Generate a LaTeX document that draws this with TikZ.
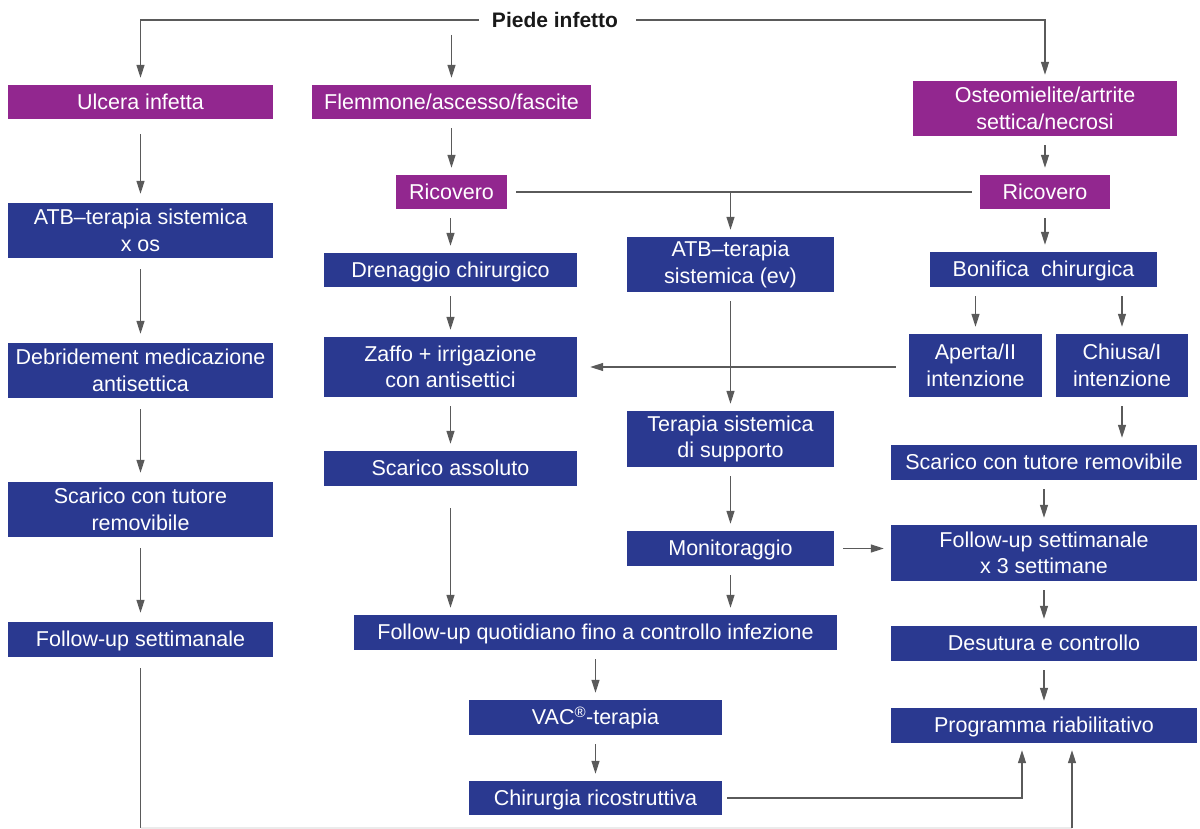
\documentclass[tikz,border=0pt]{standalone}
\usepackage{fontspec}
\setmainfont{Liberation Sans}
\usetikzlibrary{arrows.meta,calc}
\definecolor{vio}{HTML}{92278F}
\definecolor{blu}{HTML}{2A3990}
\definecolor{lin}{HTML}{5A5A5A}
\definecolor{fnt}{HTML}{EBEBEB}
\tikzset{
  box/.style={rectangle, inner sep=0pt, text=white, align=center,
    font=\fontsize{21.5}{26.5}\selectfont},
  sl/.style={text height=15.5pt, text depth=1pt},
  pbox/.style={box, fill=vio},
  bbox/.style={box, fill=blu},
  ln/.style={draw=lin, line width=1.3pt},
  arr/.style={ln, -{Triangle[length=13pt,width=8pt]}, shorten >=7pt, shorten <=9pt},
}
\begin{document}
\begin{tikzpicture}[x=1pt,y=-1pt]
\useasboundingbox (0,0) rectangle (1200,829);
% top
\node[font=\fontsize{21}{25}\selectfont\bfseries, text=black!90, inner sep=0pt] (pie) at (555,20) {Piede infetto};
% column 1
\node[pbox, sl, minimum width=265, minimum height=34] (ulc) at (140.5,102) {Ulcera infetta};
\node[bbox, minimum width=265, minimum height=55] (atb1) at (140.5,230.5) {ATB–terapia sistemica\\x os};
\node[bbox, minimum width=265, minimum height=55] (deb) at (140.5,370.5) {Debridement medicazione\\antisettica};
\node[bbox, minimum width=265, minimum height=55] (sca1) at (140.5,509.5) {Scarico con tutore\\removibile};
\node[bbox, sl, minimum width=265, minimum height=35] (fu1) at (140.5,639.5) {Follow-up settimanale};
% column 2
\node[pbox, sl, minimum width=279, minimum height=34] (fle) at (451.5,102) {Flemmone/ascesso/fascite};
\node[pbox, sl, minimum width=111, minimum height=34] (ric1) at (451.5,192) {Ricovero};
\node[bbox, sl, minimum width=253, minimum height=34] (dre) at (450.5,270) {Drenaggio chirurgico};
\node[bbox, minimum width=253, minimum height=60] (zaf) at (450.5,367) {Zaffo + irrigazione\\con antisettici};
\node[bbox, sl, minimum width=253, minimum height=35] (scaa) at (450.5,468.5) {Scarico assoluto};
\node[bbox, sl, minimum width=483, minimum height=35] (fuq) at (595.5,632.5) {Follow-up quotidiano fino a controllo infezione};
\node[bbox, sl, minimum width=253, minimum height=35] (vac) at (595.5,717.5) {VAC\textsuperscript{®}-terapia};
\node[bbox, sl, minimum width=253, minimum height=34] (chi) at (595.5,798) {Chirurgia ricostruttiva};
% column 3
\node[bbox, minimum width=207, minimum height=55] (atb2) at (730.5,264.5) {ATB–terapia\\sistemica (ev)};
\node[bbox, minimum width=207, minimum height=56] (ter) at (730.5,439) {Terapia sistemica\\di supporto};
\node[bbox, sl, minimum width=207, minimum height=35] (mon) at (730.5,548.5) {Monitoraggio};
% column 4
\node[pbox, minimum width=264, minimum height=55] (ost) at (1045,108.5) {Osteomielite/artrite\\settica/necrosi};
\node[pbox, sl, minimum width=130, minimum height=34] (ric2) at (1045,192) {Ricovero};
\node[bbox, sl, minimum width=227, minimum height=35] (bon) at (1043.5,269.5) {Bonifica\ \ chirurgica};
\node[bbox, minimum width=133, minimum height=63] (ape) at (975.5,365.5) {Aperta/II\\intenzione};
\node[bbox, minimum width=132, minimum height=63] (chs) at (1122,365.5) {Chiusa/I\\intenzione};
\node[bbox, sl, minimum width=306, minimum height=35] (sca2) at (1044,462.5) {Scarico con tutore removibile};
\node[bbox, minimum width=306, minimum height=56] (fus) at (1044,553) {Follow-up settimanale\\x 3 settimane};
\node[bbox, sl, minimum width=306, minimum height=35] (des) at (1044,643.5) {Desutura e controllo};
\node[bbox, sl, minimum width=306, minimum height=35] (pro) at (1044,725.5) {Programma riabilitativo};
% free ends
\coordinate (fletop) at (451.5,35);
\coordinate (bl) at (140.5,828);
\coordinate (br) at (1072,828);
% top connectors
\draw[arr, shorten <=13pt] (pie.west) -| (ulc.north);
\draw[arr, shorten <=0pt] (fletop) -- (fle.north);
\draw[arr, shorten <=18pt, shorten >=6pt] (pie.east) -| (ost.north);
% column 1
\draw[arr, shorten <=15pt, shorten >=9pt] (ulc) -- (atb1);
\draw[arr, shorten <=11pt, shorten >=9pt] (atb1) -- (deb);
\draw[arr, shorten <=11pt, shorten >=9pt] (deb) -- (sca1);
\draw[arr, shorten <=11pt, shorten >=9pt] (sca1) -- (fu1);
\draw[ln, shorten <=11pt] (fu1) -- (bl);
\draw[draw=fnt, line width=1.3pt] (bl) -- (br);
\draw[arr, shorten <=0pt] (br) -- (br |- pro.south);
% column 2
\draw[arr] (fle) -- (ric1);
\draw[arr] (ric1.south -| dre) -- (dre.north);
\draw[arr] (dre) -- (zaf);
\draw[arr] (zaf) -- (scaa);
\draw[arr, shorten <=22pt] (scaa.south) -- (scaa.south |- fuq.north);
\draw[arr] (fuq.south -| vac) -- (vac.north);
\draw[arr] (vac) -- (chi);
\draw[arr, shorten <=5pt] (chi.east) -| ([xshift=-22pt]pro.south);
% middle
\draw[ln, shorten <=9pt, shorten >=8pt] (ric1.east) -- (ric2.west);
\draw[arr, shorten <=0pt] (ric1.east -| atb2) -- (atb2.north);
\draw[arr] (atb2) -- (ter);
\draw[arr] (ter) -- (mon);
\draw[arr] (mon.south) -- (mon.south |- fuq.north);
\draw[arr, shorten <=9pt, shorten >=7pt] (mon.east) -- (mon.east -| fus.west);
\draw[arr, shorten <=13pt, shorten >=13pt] (ape.west |- zaf.east) -- (zaf.east);
% column 4
\draw[arr] (ost) -- (ric2);
\draw[arr] (ric2.south) -- (ric2.south |- bon.north);
\draw[arr] (bon.south -| ape) -- (ape.north);
\draw[arr] (bon.south -| chs) -- (chs.north);
\draw[arr] (chs.south) -- (chs.south |- sca2.north);
\draw[arr] (sca2) -- (fus);
\draw[arr] (fus) -- (des);
\draw[arr] (des) -- (pro);
\end{tikzpicture}
\end{document}
